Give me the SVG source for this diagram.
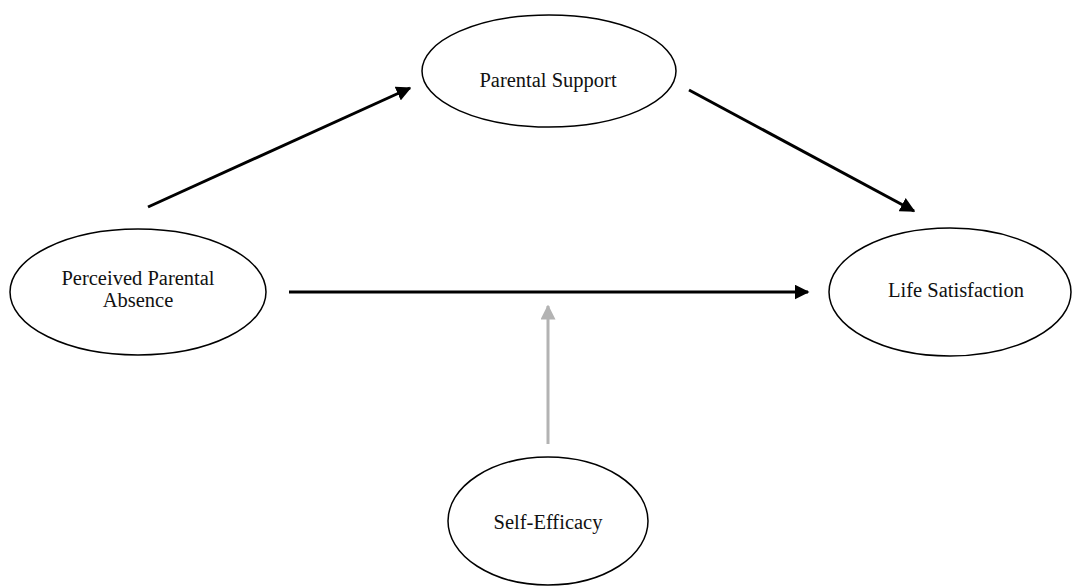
<svg xmlns="http://www.w3.org/2000/svg" width="1072" height="586" viewBox="0 0 1072 586">
<style>
.node ellipse{fill:#fff;stroke:#000;stroke-width:1.5}
.node text{font-family:"Liberation Serif","Times New Roman",serif;font-size:20.5px;fill:#111;text-anchor:middle}
.conn line{stroke:#000;stroke-width:3}
.conn line.gray{stroke:#b3b3b3}
</style>
<defs>
<marker id="ah" viewBox="0 0 10 10" refX="9" refY="5" markerWidth="5" markerHeight="5" orient="auto" markerUnits="strokeWidth">
<path d="M0,0 L10,5 L0,10 z" fill="#000"/>
</marker>
<marker id="ahg" viewBox="0 0 10 10" refX="9" refY="5" markerWidth="5" markerHeight="5" orient="auto" markerUnits="strokeWidth">
<path d="M0,0 L10,5 L0,10 z" fill="#b3b3b3"/>
</marker>
</defs>
<rect width="1072" height="586" fill="#fff"/>
<g id="connectors" class="conn">
<line x1="148" y1="207" x2="410" y2="88" marker-end="url(#ah)"/>
<line x1="689" y1="90" x2="914" y2="211" marker-end="url(#ah)"/>
<line x1="289" y1="292" x2="808" y2="292" marker-end="url(#ah)"/>
<line class="gray" x1="548" y1="444" x2="548" y2="306" marker-end="url(#ahg)"/>
</g>
<g id="node-ppa" class="node">
<ellipse cx="138" cy="292" rx="128" ry="63"/>
<text x="138" y="285">Perceived Parental</text>
<text x="138" y="307">Absence</text>
</g>
<g id="node-ps" class="node">
<ellipse cx="549" cy="71" rx="127" ry="56"/>
<text x="548" y="87">Parental Support</text>
</g>
<g id="node-ls" class="node">
<ellipse cx="950" cy="292" rx="121" ry="64"/>
<text x="956" y="297">Life Satisfaction</text>
</g>
<g id="node-se" class="node">
<ellipse cx="548" cy="521" rx="100" ry="64"/>
<text x="548" y="529">Self-Efficacy</text>
</g>
</svg>
